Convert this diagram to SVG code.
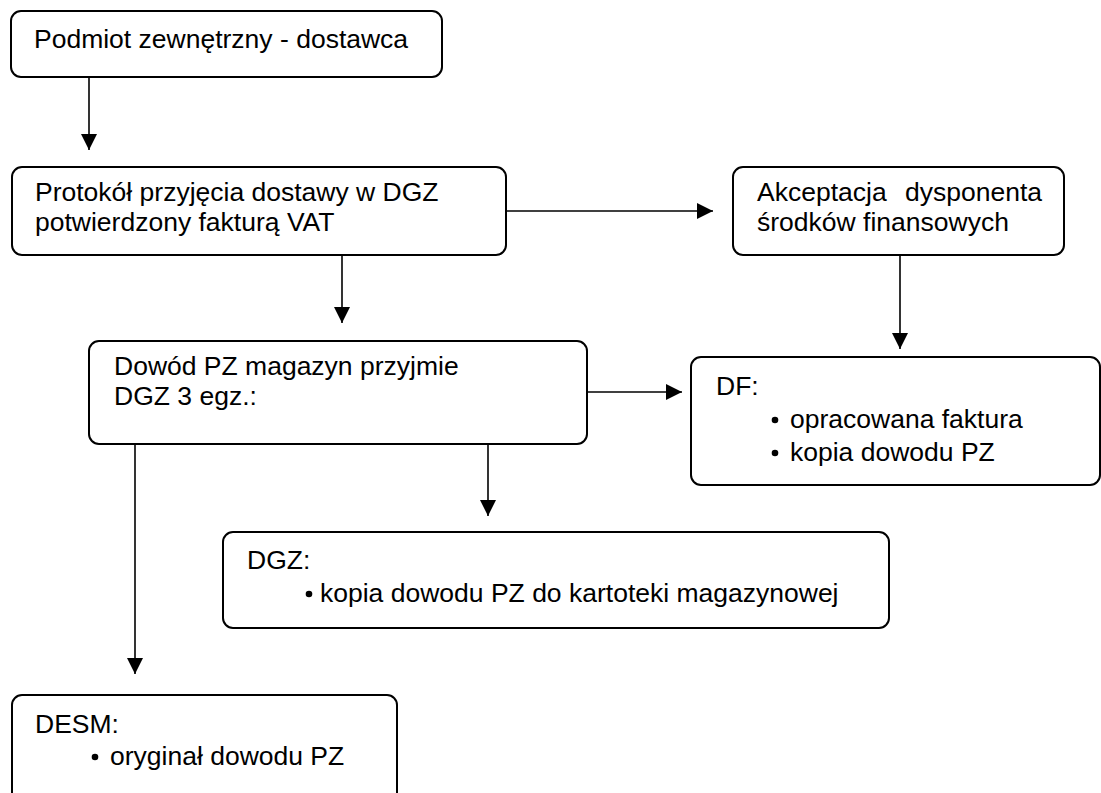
<svg xmlns="http://www.w3.org/2000/svg" width="1101" height="793" viewBox="0 0 1101 793">
<style>
.box{fill:#fff;stroke:#000;stroke-width:2}
.t{font-family:"Liberation Sans",Arial,sans-serif;font-size:26.5px;fill:#000;white-space:pre}
.c{stroke:#000;stroke-width:1.6;fill:none}
.b{fill:#000}
</style>
<defs>
<marker id="ah" markerUnits="userSpaceOnUse" markerWidth="16" markerHeight="16" refX="15" refY="7.5" orient="auto" viewBox="0 0 15 15">
<path d="M0,0 L15,7.5 L0,15 z" fill="#000"/>
</marker>
</defs>
<rect width="1101" height="793" fill="#fff"/>
<g id="connectors">
<path class="c" d="M89,77 V150" marker-end="url(#ah)"/>
<path class="c" d="M506,211 H713" marker-end="url(#ah)"/>
<path class="c" d="M900,255 V349" marker-end="url(#ah)"/>
<path class="c" d="M342,255 V323" marker-end="url(#ah)"/>
<path class="c" d="M587,392 H682" marker-end="url(#ah)"/>
<path class="c" d="M488,444 V516" marker-end="url(#ah)"/>
<path class="c" d="M135,444 V674" marker-end="url(#ah)"/>
</g>
<g id="n1">
<rect class="box" x="11" y="11" width="431" height="66" rx="10"/>
<text class="t" x="34" y="48">Podmiot zewnętrzny - dostawca</text>
</g>
<g id="n2">
<rect class="box" x="12" y="167" width="494" height="88" rx="10"/>
<text class="t" x="35" y="201">Protokół przyjęcia dostawy w DGZ</text>
<text class="t" x="35" y="231">potwierdzony fakturą VAT</text>
</g>
<g id="n3">
<rect class="box" x="733" y="167" width="331" height="88" rx="10"/>
<text class="t" x="757" y="201">Akceptacja <tspan x="905">dysponenta</tspan></text>
<text class="t" x="757" y="231">środków finansowych</text>
</g>
<g id="n4">
<rect class="box" x="89" y="341" width="498" height="103" rx="10"/>
<text class="t" x="114" y="375">Dowód PZ magazyn przyjmie</text>
<text class="t" x="114" y="405">DGZ 3 egz.:</text>
</g>
<g id="n5">
<rect class="box" x="691" y="357" width="409" height="128" rx="10"/>
<text class="t" x="716" y="395">DF:</text>
<circle class="b" cx="775" cy="420" r="3.3"/>
<text class="t" x="790" y="428">opracowana faktura</text>
<circle class="b" cx="775" cy="453" r="3.3"/>
<text class="t" x="790" y="461">kopia dowodu PZ</text>
</g>
<g id="n6">
<rect class="box" x="223" y="532" width="666" height="96" rx="10"/>
<text class="t" x="247" y="569">DGZ:</text>
<circle class="b" cx="309" cy="594" r="3.3"/>
<text class="t" x="320" y="602">kopia dowodu PZ do kartoteki magazynowej</text>
</g>
<g id="n7">
<rect class="box" x="12" y="695" width="385" height="130" rx="10"/>
<text class="t" x="35" y="733">DESM:</text>
<circle class="b" cx="95" cy="757" r="3.3"/>
<text class="t" x="110" y="765">oryginał dowodu PZ</text>
</g>
</svg>
